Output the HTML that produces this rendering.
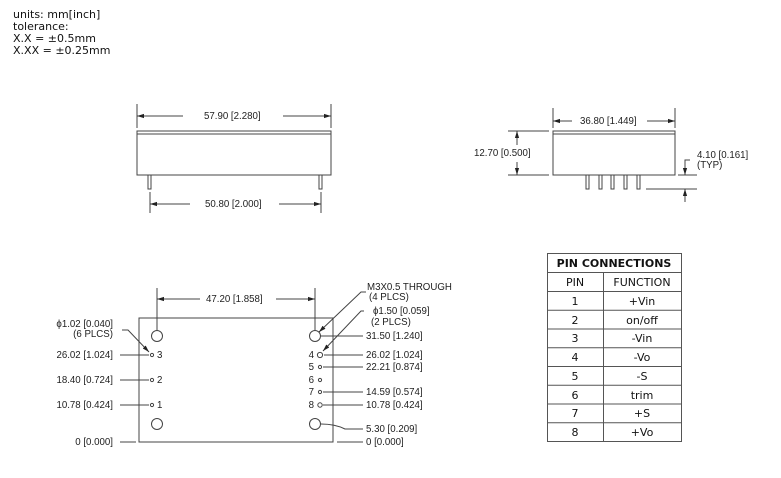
<!DOCTYPE html>
<html><head><meta charset="utf-8"><style>
html,body{margin:0;padding:0;background:#fff;width:781px;height:478px;overflow:hidden}
svg{display:block}
text{font-family:"Liberation Sans",Arial,sans-serif;font-size:9.7px;fill:#222}
.t{font-family:"DejaVu Sans","Liberation Sans",sans-serif;font-size:11px;fill:#111}
</style></head><body>
<svg width="781" height="478" viewBox="0 0 781 478" xmlns="http://www.w3.org/2000/svg">
<defs>
<marker id="a" viewBox="0 0 10 10" refX="10" refY="5" markerWidth="7" markerHeight="7" orient="auto-start-reverse"><path d="M0,2 L10,5 L0,8 z" fill="#222"/></marker>
</defs>
<g class="t">
<text x="13" y="18" class="t">units: mm[inch]</text>
<text x="13" y="30" class="t">tolerance:</text>
<text x="13" y="42" class="t">X.X = ±0.5mm</text>
<text x="13" y="54" class="t">X.XX = ±0.25mm</text>
</g>
<g stroke="#444" stroke-width="1" fill="none">
<rect x="137" y="131" width="194" height="44"/>
<line x1="137" y1="134" x2="331" y2="134"/>
<rect x="148" y="175" width="3" height="14"/>
<rect x="319" y="175" width="3" height="14"/>
<line x1="137" y1="104" x2="137" y2="128"/>
<line x1="331" y1="104" x2="331" y2="128"/>
<line x1="137" y1="116" x2="183" y2="116" marker-start="url(#a)"/>
<line x1="283" y1="116" x2="331" y2="116" marker-end="url(#a)"/>
<line x1="150" y1="192" x2="150" y2="213"/>
<line x1="321" y1="192" x2="321" y2="213"/>
<line x1="150" y1="204" x2="190" y2="204" marker-start="url(#a)"/>
<line x1="279" y1="204" x2="321" y2="204" marker-end="url(#a)"/>
<rect x="553" y="131" width="122" height="44"/>
<line x1="553" y1="134" x2="675" y2="134"/>
<rect x="586" y="175" width="3" height="14"/><rect x="599" y="175" width="3" height="14"/>
<rect x="611" y="175" width="3" height="14"/><rect x="624" y="175" width="3" height="14"/>
<rect x="637" y="175" width="3" height="14"/>
<line x1="553" y1="108" x2="553" y2="128"/>
<line x1="675" y1="108" x2="675" y2="128"/>
<line x1="553" y1="121" x2="572" y2="121" marker-start="url(#a)"/>
<line x1="647" y1="121" x2="675" y2="121" marker-end="url(#a)"/>
<line x1="508" y1="131" x2="549" y2="131"/>
<line x1="508" y1="175" x2="549" y2="175"/>
<line x1="517" y1="131" x2="517" y2="145" marker-start="url(#a)"/>
<line x1="517" y1="162" x2="517" y2="175" marker-end="url(#a)"/>
<line x1="678" y1="175" x2="697" y2="175"/>
<line x1="646" y1="189" x2="697" y2="189"/>
<polyline points="690,160 685,160 685,175" marker-end="url(#a)"/>
<line x1="685" y1="202" x2="685" y2="189" marker-end="url(#a)"/>
<rect x="139" y="318" width="194" height="124"/>
<circle cx="157" cy="336" r="5.5"/><circle cx="157" cy="424" r="5.5"/>
<circle cx="315" cy="336" r="5.5"/><circle cx="315" cy="424" r="5.5"/>
<circle cx="152" cy="355" r="1.6"/><circle cx="152" cy="380" r="1.6"/><circle cx="152" cy="405" r="1.6"/>
<circle cx="320" cy="355" r="2.6"/><circle cx="320" cy="367" r="1.6"/><circle cx="320" cy="380" r="1.6"/>
<circle cx="320" cy="392" r="1.6"/><circle cx="320" cy="405" r="2.2"/>
<line x1="157" y1="288" x2="157" y2="330"/>
<line x1="315" y1="288" x2="315" y2="330"/>
<line x1="157" y1="299" x2="200" y2="299" marker-start="url(#a)"/>
<line x1="276" y1="299" x2="315" y2="299" marker-end="url(#a)"/>
<polyline points="122,330 128,330 149,352" marker-end="url(#a)"/>
<line x1="120" y1="355" x2="149" y2="355"/>
<line x1="120" y1="380" x2="149" y2="380"/>
<line x1="120" y1="405" x2="149" y2="405"/>
<line x1="120" y1="442" x2="136" y2="442"/>
<polyline points="366,292 361,292 319,332" marker-end="url(#a)"/>
<polyline points="364,311 361,311 323,351" marker-end="url(#a)"/>
<line x1="321" y1="336" x2="363" y2="336"/>
<line x1="324" y1="355" x2="363" y2="355"/>
<line x1="323" y1="367" x2="363" y2="367"/>
<line x1="323" y1="392" x2="363" y2="392"/>
<line x1="323" y1="405" x2="363" y2="405"/>
<path d="M321,424 Q335,424 345,429 L363,429"/>
<line x1="337" y1="442" x2="363" y2="442"/>
</g>
<text x="204" y="119">57.90 [2.280]</text>
<text x="205" y="207">50.80 [2.000]</text>
<text x="580" y="124">36.80 [1.449]</text>
<text x="474" y="156">12.70 [0.500]</text>
<text x="697" y="158">4.10 [0.161]</text>
<text x="697" y="168">(TYP)</text>
<text x="206" y="302">47.20 [1.858]</text>
<text x="113" y="327" text-anchor="end">ϕ1.02 [0.040]</text>
<text x="113" y="337" text-anchor="end">(6 PLCS)</text>
<text x="113" y="358" text-anchor="end">26.02 [1.024]</text>
<text x="113" y="383" text-anchor="end">18.40 [0.724]</text>
<text x="113" y="408" text-anchor="end">10.78 [0.424]</text>
<text x="113" y="445" text-anchor="end">0 [0.000]</text>
<text x="157" y="358">3</text><text x="157" y="383">2</text><text x="157" y="408">1</text>
<text x="314" y="358" text-anchor="end">4</text><text x="314" y="370" text-anchor="end">5</text>
<text x="314" y="383" text-anchor="end">6</text><text x="314" y="395" text-anchor="end">7</text>
<text x="314" y="408" text-anchor="end">8</text>
<text x="367" y="290">M3X0.5 THROUGH</text>
<text x="369" y="300">(4 PLCS)</text>
<text x="373" y="314">ϕ1.50 [0.059]</text>
<text x="371" y="325">(2 PLCS)</text>
<text x="366" y="339">31.50 [1.240]</text>
<text x="366" y="358">26.02 [1.024]</text>
<text x="366" y="370">22.21 [0.874]</text>
<text x="366" y="395">14.59 [0.574]</text>
<text x="366" y="408">10.78 [0.424]</text>
<text x="366" y="432">5.30 [0.209]</text>
<text x="366" y="445">0 [0.000]</text>
<g stroke="#555" stroke-width="1" fill="none">
<rect x="547.5" y="253.5" width="134" height="188"/>
<line x1="547" y1="272.5" x2="682" y2="272.5"/>
<line x1="547" y1="291.5" x2="682" y2="291.5"/>
<line x1="547" y1="310.25" x2="682" y2="310.25"/>
<line x1="547" y1="329" x2="682" y2="329"/>
<line x1="547" y1="347.75" x2="682" y2="347.75"/>
<line x1="547" y1="366.5" x2="682" y2="366.5"/>
<line x1="547" y1="385.25" x2="682" y2="385.25"/>
<line x1="547" y1="404" x2="682" y2="404"/>
<line x1="547" y1="422.75" x2="682" y2="422.75"/>
<line x1="603.5" y1="272" x2="603.5" y2="441"/>
</g>
<g class="t" text-anchor="middle">
<text x="614" y="267" class="t" style="font-weight:bold">PIN CONNECTIONS</text>
<text x="575" y="286" class="t">PIN</text><text x="642" y="286" class="t">FUNCTION</text>
<text x="575" y="305" class="t">1</text><text x="642" y="305" class="t">+Vin</text>
<text x="575" y="324" class="t">2</text><text x="642" y="324" class="t">on/off</text>
<text x="575" y="342" class="t">3</text><text x="642" y="342" class="t">-Vin</text>
<text x="575" y="361" class="t">4</text><text x="642" y="361" class="t">-Vo</text>
<text x="575" y="380" class="t">5</text><text x="642" y="380" class="t">-S</text>
<text x="575" y="399" class="t">6</text><text x="642" y="399" class="t">trim</text>
<text x="575" y="417" class="t">7</text><text x="642" y="417" class="t">+S</text>
<text x="575" y="436" class="t">8</text><text x="642" y="436" class="t">+Vo</text>
</g>
</svg>
</body></html>
